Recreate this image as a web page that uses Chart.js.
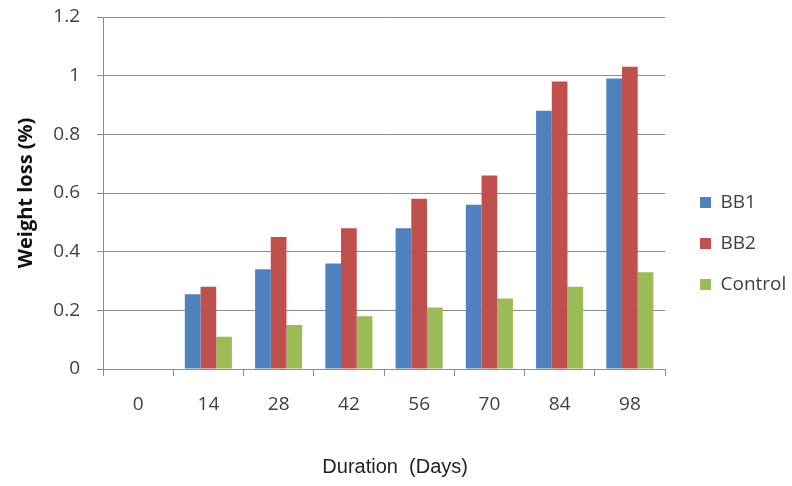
<!DOCTYPE html>
<html>
<head>
<meta charset="utf-8">
<script src="https://cdn.jsdelivr.net/npm/chart.js@4"></script>
<style>
  html, body { margin: 0; padding: 0; background: #fff; }
  #wrap { width: 792px; height: 486px; }
</style>
</head>
<body>
<div id="wrap"><canvas id="myChart" width="792" height="486"></canvas></div>
<script>
    // values
    const days = ['0', '14', '28', '42', '56', '70', '84', '98']
    const bb1 = [0, 0.255, 0.34, 0.36, 0.48, 0.56, 0.88, 0.99]
    const bb2 = [0, 0.28, 0.45, 0.48, 0.58, 0.66, 0.98, 1.03]
    const control = [0, 0.11, 0.15, 0.18, 0.21, 0.24, 0.28, 0.33]
    const yTickLabels = ['0', '0.2', '0.4', '0.6', '0.8', '1', '1.2']

    const COLORS = {
      blue: '#4F81BD',
      red: '#C0504D',
      green: '#9BBB59',
    };
    const GRID = '#8c8c8c'
    const TEXT = '#404040'

    const data = {
      labels: days,
      datasets: [
        { label: 'BB1', data: bb1, backgroundColor: COLORS.blue },
        { label: 'BB2', data: bb2, backgroundColor: COLORS.red },
        { label: 'Control', data: control, backgroundColor: COLORS.green }
      ]
    };

    // keep the legend a fixed width so the plot ends where the picture's does,
    // then nudge it right/up to sit like the original one
    const legendPlace = {
      id: 'legendPlace',
      beforeLayout(chart) {
        const lg = chart.legend
        if (lg && !lg._fixed) {
          const fit = lg.fit
          lg.fit = function () { fit.call(this); this.width = 127 }
          lg._fixed = true
        }
      },
      afterLayout(chart) {
        const lg = chart.legend
        lg.left += 13; lg.right += 13
        lg.top -= 8; lg.bottom -= 8
      }
    }

    const config = {
      type: 'bar',
      data: data,
      plugins: [legendPlace],
      options: {
        responsive: false,
        animation: false,
        devicePixelRatio: 1,
        datasets: {
          bar: { barPercentage: 1, categoryPercentage: 0.67 }
        },
        layout: { padding: { top: 17, right: 0, left: 0, bottom: 0 } },
        plugins: {
          legend: {
            position: 'right',
            labels: {
              boxWidth: 11,
              boxHeight: 11,
              padding: 22,
              color: TEXT,
              font: { family: 'Open Sans', size: 19 }
            }
          },
          tooltip: { enabled: false }
        },
        scales: {
          x: {
            grid: {
              offset: true,
              drawOnChartArea: false,
              drawTicks: true,
              tickLength: 7,
              color: GRID
            },
            border: { display: true, color: GRID },
            ticks: {
              padding: 17,
              color: TEXT,
              font: { family: 'Open Sans', size: 19 }
            },
            title: {
              display: true,
              // leading spaces: the original centres this under the whole figure
              text: '\u00a0\u00a0\u00a0\u00a0Duration  (Days)',
              color: '#222',
              padding: { top: 0, bottom: 7 },
              font: { family: 'Liberation Sans', size: 20 }
            },
            afterFit: function (scale) { scale.height = 117 }
          },
          y: {
            min: 0,
            max: 1.2,
            grid: { color: GRID, tickLength: 6 },
            border: { display: true, color: GRID },
            ticks: {
              stepSize: 0.2,
              padding: 17,
              color: TEXT,
              font: { family: 'Open Sans', size: 19 },
              callback: function (value, index) { return yTickLabels[index] }
            },
            title: {
              display: true,
              text: 'Weight loss (%)',
              color: '#111',
              padding: { top: 14, bottom: 0 },
              font: { family: 'Open Sans', size: 20, weight: 'bold' }
            },
            afterFit: function (scale) {
              scale.width = 103
              scale.paddingTop = 0
              scale.paddingBottom = 0
            }
          }
        }
      }
    };

    const myChart = new Chart(document.getElementById('myChart'), config);
</script>
</body>
</html>
